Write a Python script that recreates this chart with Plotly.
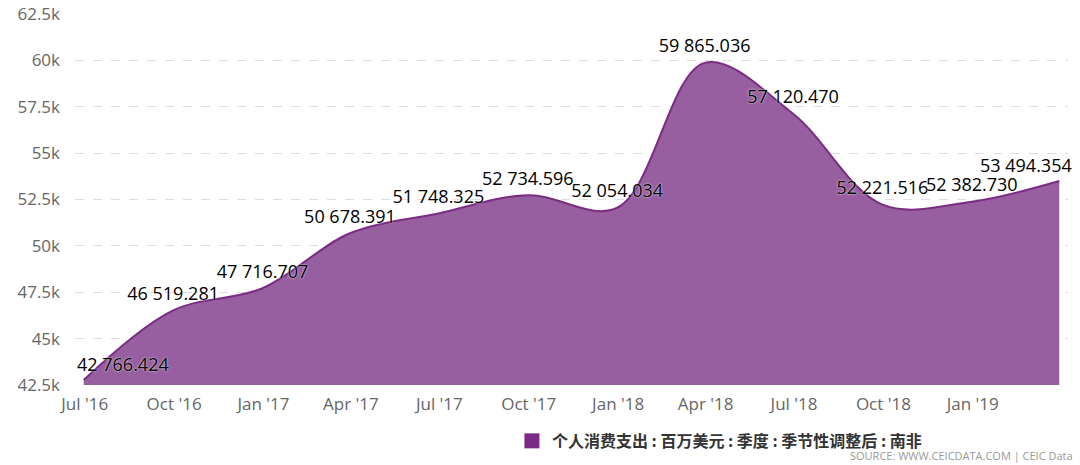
import plotly.graph_objects as go

dates = ["2016-06-30", "2016-09-30", "2016-12-31", "2017-03-31", "2017-06-30", "2017-09-30",
         "2017-12-31", "2018-03-31", "2018-06-30", "2018-09-30", "2018-12-31", "2019-03-31"]
values = [42766.424, 46519.281, 47716.707, 50678.391, 51748.325, 52734.596,
          52054.034, 59865.036, 57120.470, 52221.516, 52382.730, 53494.354]
labels = ["42 766.424", "46 519.281", "47 716.707", "50 678.391", "51 748.325", "52 734.596",
          "52 054.034", "59 865.036", "57 120.470", "52 221.516", "52 382.730", "53 494.354"]

tick_dates = ["2016-07-01", "2016-10-01", "2017-01-01", "2017-04-01", "2017-07-01", "2017-10-01",
              "2018-01-01", "2018-04-01", "2018-07-01", "2018-10-01", "2019-01-01"]
tick_text = ["Jul '16", "Oct '16", "Jan '17", "Apr '17", "Jul '17", "Oct '17",
             "Jan '18", "Apr '18", "Jul '18", "Oct '18", "Jan '19"]
y_ticks = [42500, 45000, 47500, 50000, 52500, 55000, 57500, 60000, 62500]
y_text = ["42.5k", "45k", "47.5k", "50k", "52.5k", "55k", "57.5k", "60k", "62.5k"]
baseline = 42500

series_name = "个人消费支出 : 百万美元 : 季度 : 季节性调整后 : 南非"

label_font = dict(family="Open Sans", size=18, color="#000000", shadow="0px 0px 2px #ffffff")

# first and last labels are justified inside the plot area (as annotations)
mid_labels = [""] + labels[1:-1] + [""]

fig = go.Figure()
fig.add_trace(go.Scatter(
    x=dates, y=[baseline] * len(dates), mode="lines", line=dict(width=0),
    showlegend=False, hoverinfo="skip"))
fig.add_trace(go.Scatter(
    x=dates, y=values, mode="lines+markers+text", text=mid_labels, textposition="top center",
    textfont=label_font,
    marker=dict(size=8, color="rgba(0,0,0,0)"),
    line=dict(shape="spline", smoothing=1.0, color="#7a2c82", width=2),
    fill="tonexty", fillcolor="rgb(152,95,160)", showlegend=False, cliponaxis=False,
))
fig.add_trace(go.Scatter(
    x=[None], y=[None], mode="markers", name=series_name,
    marker=dict(symbol="square", size=15, color="#7b2a85"), showlegend=True,
))

annotations = [
    dict(text=labels[0], x=dates[0], y=values[0], xref="x", yref="y",
         xanchor="left", yanchor="bottom", xshift=-9, yshift=2, showarrow=False,
         font=label_font),
    dict(text=labels[-1], x=dates[-1], y=values[-1], xref="x", yref="y",
         xanchor="right", yanchor="bottom", xshift=15, yshift=2, showarrow=False,
         font=label_font),
    dict(text="SOURCE: WWW.CEICDATA.COM | CEIC Data", xref="paper", yref="paper",
         x=1.007, y=-0.165, xanchor="right", yanchor="top", showarrow=False,
         font=dict(family="Open Sans", size=11, color="#999999")),
]

fig.update_layout(
    width=1080, height=465,
    margin=dict(l=75, r=12, t=14, b=80, autoexpand=False),
    paper_bgcolor="white", plot_bgcolor="white",
    font=dict(family="Open Sans", color="#666666"),
    xaxis=dict(
        range=["2016-06-21", "2019-04-09"], tickvals=tick_dates, ticktext=tick_text,
        showgrid=False, zeroline=False, showline=False, ticks="",
        ticklabelstandoff=7,
        tickfont=dict(size=17, color="#666666"),
    ),
    yaxis=dict(
        range=[42500, 62500], tickvals=y_ticks, ticktext=y_text,
        showgrid=True, gridcolor="#dedede", griddash="dash", gridwidth=1,
        zeroline=False, showline=False, ticks="", ticklabelstandoff=14,
        tickfont=dict(size=17, color="#666666"),
    ),
    legend=dict(
        orientation="h", x=0.44, xanchor="left", y=-0.105, yanchor="top",
        font=dict(family="Noto Sans CJK SC", size=16, color="#333333", weight="bold"),
        bgcolor="rgba(0,0,0,0)",
    ),
    annotations=annotations,
)

fig.write_html("out.html")
